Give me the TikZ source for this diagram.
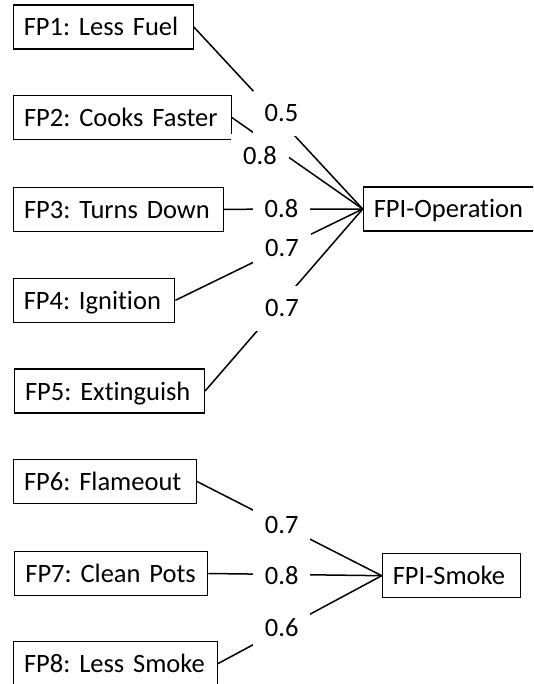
\documentclass[tikz,border=0pt]{standalone}
\usepackage{fontspec}
\setmainfont{Carlito}[Ligatures=NoCommon]
\frenchspacing
\begin{document}
\begin{tikzpicture}[x=1pt,y=-1pt,
  fpbox/.style={draw, line width=1.1pt, anchor=west, inner xsep=10.5pt, inner ysep=0pt,
    text height=31pt, text depth=13pt, align=left, font=\fontsize{26.5}{31}\selectfont},
  conn/.style={line width=1.5pt},
  wlabel/.style={fill=white, inner xsep=12pt, inner ysep=14pt,
    text height=16.5pt, text depth=0pt, font=\fontsize{26.5}{31}\selectfont}]
\useasboundingbox (0,0) rectangle (533,684);
\clip (0,0) rectangle (533,684);
% boxes
\node[fpbox, text width=159pt]   (fp1) at (12.7,27)    {FP1: Less Fuel};
\node[fpbox, text width=196.7pt] (fp2) at (13,117.5)   {FP2: Cooks Faster};
\node[fpbox, text width=188.7pt] (fp3) at (13,209.3)   {FP3: Turns Down};
\node[fpbox, text width=140.6pt] (fp4) at (12.7,300.3) {FP4: Ignition};
\node[fpbox, text width=169pt]   (fp5) at (14,391)     {FP5: Extinguish};
\node[fpbox, text width=161.7pt] (fp6) at (13,481.4)   {FP6: Flameout};
\node[fpbox, text width=172pt]   (fp7) at (14.3,573.5) {FP7: Clean Pots};
\node[fpbox, text width=182.7pt] (fp8) at (13,663.7)   {FP8: Less Smoke};
\node[fpbox, text width=230pt]   (op)  at (362.7,209)  {FPI-Operation};
\node[fpbox, text width=117.3pt] (sm)  at (381.7,575.7) {FPI-Smoke};
% connectors and their labels
\draw[conn] (fp1.east) -- (op.west);
\draw[conn] (fp2.east) -- (op.west);
\draw[conn] (fp3.east) -- (op.west);
\draw[conn] (fp4.east) -- (op.west);
\node[wlabel] (l1) at (281.5,113.5) {0.5};
\node[wlabel] (l2) at (260,156.5)   {0.8};
\node[wlabel] (l3) at (281.5,209)   {0.8};
\node[wlabel] (l4) at (282,248.7)   {0.7};
\draw[conn] (fp5.east) -- (op.west);
\node[wlabel] (l5) at (282,308.7)   {0.7};
\draw[conn] (fp6.east) -- (sm.west);
\draw[conn] (fp7.east) -- (sm.west);
\draw[conn] (fp8.east) -- (sm.west);
\node[wlabel] (l6) at (281.7,525)   {0.7};
\node[wlabel] (l7) at (281.7,576.5) {0.8};
\node[wlabel] (l8) at (281.7,628)   {0.6};
\end{tikzpicture}
\end{document}
